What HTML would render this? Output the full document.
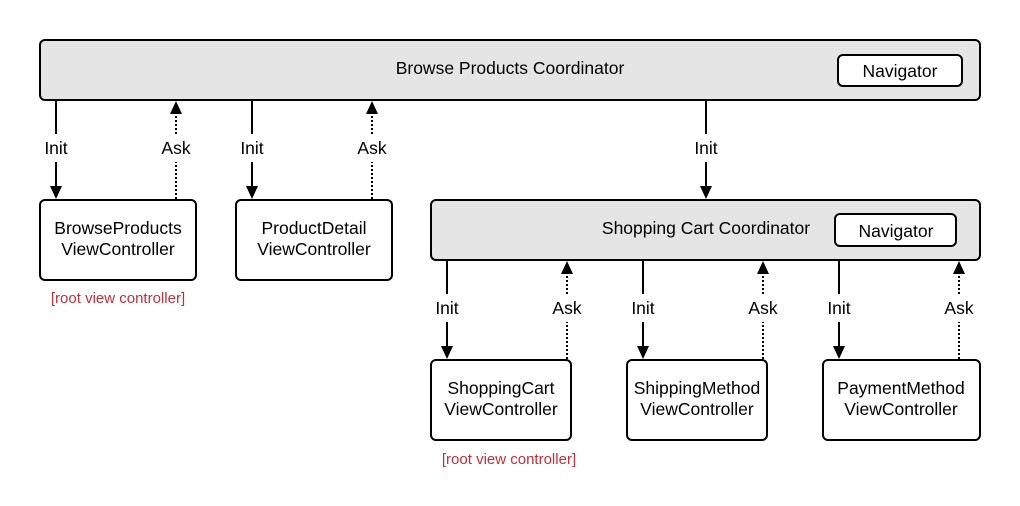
<!DOCTYPE html>
<html><head><style>body{margin:0;background:#fff}</style></head><body>
<svg width="1020" height="501" viewBox="0 0 1020 501" xmlns="http://www.w3.org/2000/svg" font-family="Liberation Sans, sans-serif">
<g stroke="#000" stroke-width="2">
<rect x="40" y="40" width="940" height="60" rx="5" fill="#e5e5e5"/>
<rect x="838" y="55" width="124" height="31" rx="5" fill="#fff"/>
<rect x="40" y="200" width="156" height="80" rx="5" fill="#fff"/>
<rect x="236" y="200" width="156" height="80" rx="5" fill="#fff"/>
<rect x="431" y="200" width="549" height="60" rx="5" fill="#e5e5e5"/>
<rect x="835" y="214" width="121" height="32" rx="5" fill="#fff"/>
<rect x="431" y="360" width="140" height="80" rx="5" fill="#fff"/>
<rect x="627" y="360" width="140" height="80" rx="5" fill="#fff"/>
<rect x="823" y="360" width="157" height="80" rx="5" fill="#fff"/>
</g>
<g stroke="#000" stroke-width="2" fill="none">
<path d="M56 101V134M56 162V188M252 101V134M252 162V188M706 101V134M706 162V188"/>
<path d="M447 261V294M447 322V348M643 261V294M643 322V348M839 261V294M839 322V348"/>
<path stroke-dasharray="2 2" d="M176 199V162M176 134V112M372 199V162M372 134V112M567 359V322M567 294V272M763 359V322M763 294V272M959 359V322M959 294V272"/>
</g>
<g fill="#000">
<path d="M50 186h12l-6 13z M246 186h12l-6 13z M700 186h12l-6 13z M441 346h12l-6 13z M637 346h12l-6 13z M833 346h12l-6 13z"/>
<path d="M170 114h12l-6-13z M366 114h12l-6-13z M561 274h12l-6-13z M757 274h12l-6-13z M953 274h12l-6-13z"/>
</g>
<g font-size="17.5" text-anchor="middle" fill="#000">
<text x="510" y="74">Browse Products Coordinator</text>
<text x="900" y="77">Navigator</text>
<text x="706" y="234">Shopping Cart Coordinator</text>
<text x="896" y="237">Navigator</text>
<text x="56" y="154">Init</text><text x="176" y="154">Ask</text>
<text x="252" y="154">Init</text><text x="372" y="154">Ask</text>
<text x="706" y="154">Init</text>
<text x="447" y="314">Init</text><text x="567" y="314">Ask</text>
<text x="643" y="314">Init</text><text x="763" y="314">Ask</text>
<text x="839" y="314">Init</text><text x="959" y="314">Ask</text>
<text x="118" y="234">BrowseProducts</text><text x="118" y="255">ViewController</text>
<text x="314" y="234">ProductDetail</text><text x="314" y="255">ViewController</text>
<text x="501" y="394">ShoppingCart</text><text x="501" y="415">ViewController</text>
<text x="697" y="394">ShippingMethod</text><text x="697" y="415">ViewController</text>
<text x="901" y="394">PaymentMethod</text><text x="901" y="415">ViewController</text>
</g>
<g font-size="15" text-anchor="middle" fill="#c0303a">
<text x="118" y="303">[root view controller]</text>
<text x="509" y="464">[root view controller]</text>
</g>
</svg>
</body></html>
